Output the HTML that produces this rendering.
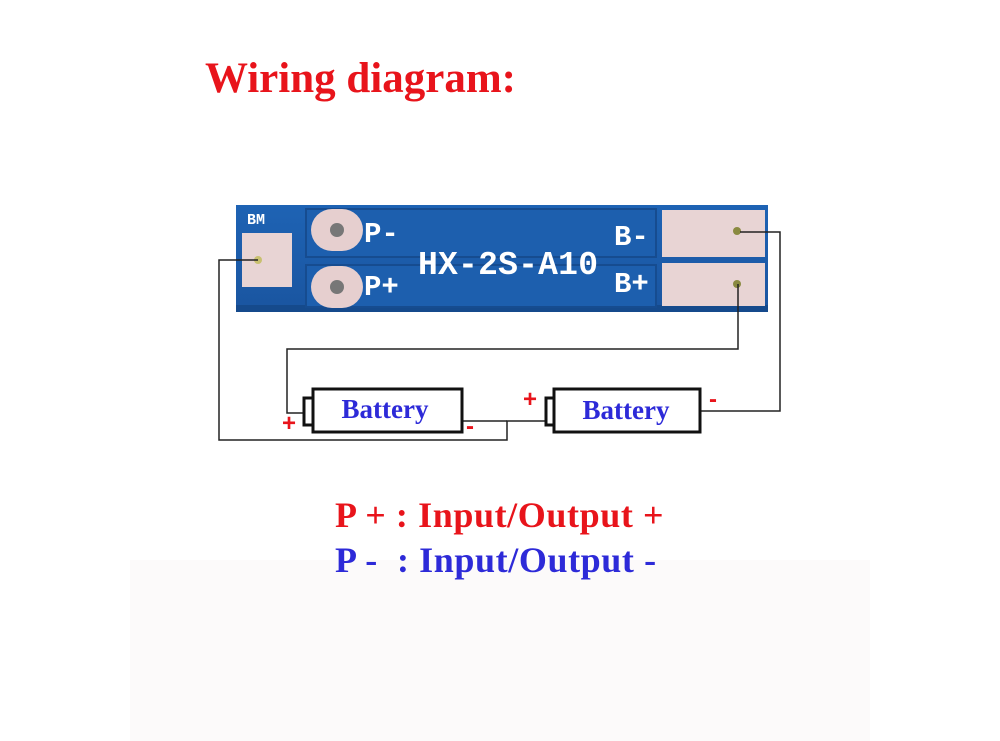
<!DOCTYPE html>
<html><head><meta charset="utf-8"><style>
body{margin:0;width:1000px;height:741px;background:#fff;overflow:hidden;position:relative;font-family:"Liberation Serif",serif}
.t{position:absolute;font-weight:bold;white-space:pre}
</style></head><body>
<div style="position:absolute;left:130px;top:560px;width:740px;height:181px;background:#fcfafa"></div>
<div class="t" style="left:205px;top:54px;font-size:43px;color:#e8141b">Wiring diagram:</div>
<svg width="1000" height="741" style="position:absolute;left:0;top:0">
<defs><linearGradient id="g" x1="0" y1="0" x2="0" y2="1"><stop offset="0" stop-color="#1e63b4"/><stop offset="1" stop-color="#1a55a0"/></linearGradient></defs>
<rect x="236" y="205" width="532" height="107" fill="url(#g)"/>
<rect x="236" y="305" width="532" height="7" fill="#154a8c"/>
<rect x="306" y="209" width="350" height="48" fill="#1d5fae" stroke="#164c90" stroke-width="2"/>
<rect x="306" y="265" width="350" height="42" fill="#1d5fae" stroke="#164c90" stroke-width="2"/>
<rect x="242" y="233" width="50" height="54" fill="#e8d4d4"/>
<circle cx="258" cy="260" r="4" fill="#c8c070"/>
<rect x="311" y="209" width="52" height="42" rx="21" fill="#e6cfcf"/>
<circle cx="337" cy="230" r="7" fill="#777"/>
<rect x="311" y="266" width="52" height="42" rx="21" fill="#e6cfcf"/>
<circle cx="337" cy="287" r="7" fill="#777"/>
<rect x="662" y="210" width="103" height="47" fill="#e8d4d4"/>
<rect x="662" y="263" width="103" height="43" fill="#e8d4d4"/>
<circle cx="737" cy="231" r="4" fill="#8a8a40"/>
<circle cx="737" cy="284" r="4" fill="#8a8a40"/>
<text x="247" y="224" font-family="Liberation Mono" font-size="15" font-weight="bold" fill="#fff">BM</text>
<text x="364" y="242" font-family="Liberation Mono" font-size="29" font-weight="bold" fill="#fff">P-</text>
<text x="364" y="295" font-family="Liberation Mono" font-size="29" font-weight="bold" fill="#fff">P+</text>
<text x="614" y="245" font-family="Liberation Mono" font-size="29" font-weight="bold" fill="#fff">B-</text>
<text x="614" y="292" font-family="Liberation Mono" font-size="29" font-weight="bold" fill="#fff">B+</text>
<text x="418" y="274" font-family="Liberation Mono" font-size="33" font-weight="bold" fill="#fff" textLength="180">HX-2S-A10</text>
<g fill="none" stroke="#222" stroke-width="1.5">
<polyline points="258,260 219,260 219,440 507,440 507,421 545,421"/>
<polyline points="738,284 738,349 287,349 287,413 303,413"/>
<polyline points="740,232 780,232 780,411 700,411"/>
<polyline points="462,421 507,421"/>
</g>
<g fill="#fff" stroke="#111" stroke-width="3">
<rect x="304" y="398" width="9" height="27"/>
<rect x="313" y="389" width="149" height="43"/>
<rect x="546" y="398" width="8" height="27"/>
<rect x="554" y="389" width="146" height="43"/>
</g>
<text x="385" y="418" text-anchor="middle" font-family="Liberation Serif" font-weight="bold" font-size="27" fill="#2d2ad8">Battery</text>
<text x="626" y="419" text-anchor="middle" font-family="Liberation Serif" font-weight="bold" font-size="27" fill="#2d2ad8">Battery</text>
<g font-family="Liberation Sans" font-size="24" font-weight="bold" fill="#e8141b">
<text x="282" y="431">+</text><text x="466" y="434">-</text>
<text x="523" y="407">+</text><text x="709" y="407">-</text>
</g>
</svg>
<div class="t" style="left:335px;top:494px;font-size:36px;letter-spacing:0.6px;color:#e8141b">P + : Input/Output +</div>
<div class="t" style="left:335px;top:539px;font-size:36px;letter-spacing:0.6px;color:#2d2ad8">P -  : Input/Output -</div>
</body></html>
